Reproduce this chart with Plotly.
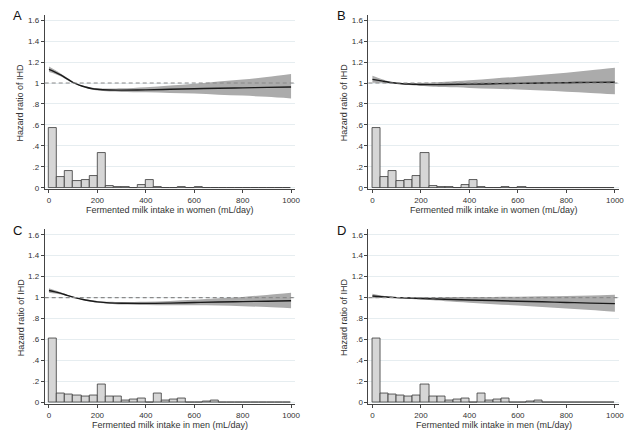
import plotly.graph_objects as go

# ---------------- data ----------------
BIN_WIDTH = 1000 / 30  # mL/day per histogram bin

hist_women = [0.573, 0.100, 0.158, 0.066, 0.073, 0.110, 0.335, 0.016, 0.006, 0.006,
              0.0, 0.025, 0.073, 0.006, 0.002, 0.002, 0.004, 0.0, 0.004, 0.0,
              0.0, 0.0, 0.0, 0.0, 0.0, 0.0, 0.0, 0.0, 0.0, 0.0]
hist_men = [0.610, 0.085, 0.076, 0.066, 0.057, 0.066, 0.170, 0.057, 0.057, 0.022,
            0.028, 0.036, 0.0, 0.091, 0.019, 0.028, 0.035, 0.0, 0.0, 0.008,
            0.017, 0.0, 0.003, 0.003, 0.003, 0.0, 0.0, 0.003, 0.0, 0.0]

intake = [0, 25, 50, 75, 100, 125, 150, 175, 200, 250, 300, 400, 500, 600, 700, 800, 900, 1000]

hr_A = [1.130, 1.105, 1.075, 1.040, 1.005, 0.980, 0.962, 0.948, 0.940, 0.933, 0.932, 0.935, 0.940, 0.945, 0.950, 0.954, 0.958, 0.962]
lo_A = [1.105, 1.087, 1.062, 1.030, 0.998, 0.973, 0.954, 0.938, 0.929, 0.919, 0.915, 0.911, 0.905, 0.900, 0.889, 0.880, 0.868, 0.853]
hi_A = [1.158, 1.124, 1.088, 1.050, 1.012, 0.987, 0.970, 0.958, 0.951, 0.947, 0.949, 0.960, 0.976, 0.993, 1.015, 1.034, 1.057, 1.085]

hr_B = [1.035, 1.025, 1.015, 1.005, 0.998, 0.993, 0.990, 0.988, 0.986, 0.985, 0.986, 0.989, 0.993, 0.997, 1.000, 1.003, 1.006, 1.008]
lo_B = [1.002, 1.003, 1.001, 0.997, 0.994, 0.987, 0.981, 0.976, 0.971, 0.965, 0.961, 0.953, 0.946, 0.939, 0.929, 0.917, 0.905, 0.892]
hi_B = [1.069, 1.048, 1.029, 1.013, 1.002, 0.999, 0.999, 1.000, 1.001, 1.005, 1.012, 1.026, 1.043, 1.060, 1.079, 1.099, 1.121, 1.145]

hr_C = [1.068, 1.055, 1.040, 1.022, 1.005, 0.990, 0.978, 0.968, 0.960, 0.950, 0.946, 0.945, 0.948, 0.953, 0.958, 0.962, 0.966, 0.970]
lo_C = [1.047, 1.040, 1.031, 1.016, 1.001, 0.985, 0.971, 0.960, 0.951, 0.940, 0.934, 0.929, 0.927, 0.927, 0.924, 0.918, 0.910, 0.899]
hi_C = [1.089, 1.070, 1.049, 1.028, 1.009, 0.995, 0.985, 0.976, 0.969, 0.960, 0.958, 0.961, 0.969, 0.980, 0.993, 1.007, 1.026, 1.046]

hr_D = [1.015, 1.011, 1.007, 1.003, 1.000, 0.998, 0.996, 0.994, 0.992, 0.988, 0.985, 0.978, 0.972, 0.966, 0.960, 0.954, 0.948, 0.943]
lo_D = [0.995, 0.997, 0.998, 0.998, 0.997, 0.993, 0.989, 0.985, 0.981, 0.974, 0.966, 0.952, 0.938, 0.924, 0.910, 0.897, 0.881, 0.865]
hi_D = [1.037, 1.025, 1.016, 1.008, 1.003, 1.003, 1.003, 1.003, 1.003, 1.002, 1.004, 1.005, 1.007, 1.009, 1.012, 1.016, 1.021, 1.027]

y_tickvals = [0, 0.2, 0.4, 0.6, 0.8, 1.0, 1.2, 1.4, 1.6]
y_ticktext = ["0", ".2", ".4", ".6", ".8", "1", "1.2", "1.4", "1.6"]
x_tickvals = [0, 200, 400, 600, 800, 1000]

panels = [
    dict(letter="A", hist=hist_women, hr=hr_A, lo=lo_A, hi=hi_A,
         xtitle="Fermented milk intake in women (mL/day)"),
    dict(letter="B", hist=hist_women, hr=hr_B, lo=lo_B, hi=hi_B,
         xtitle="Fermented milk intake in women (mL/day)"),
    dict(letter="C", hist=hist_men, hr=hr_C, lo=lo_C, hi=hi_C,
         xtitle="Fermented milk intake in men (mL/day)"),
    dict(letter="D", hist=hist_men, hr=hr_D, lo=lo_D, hi=hi_D,
         xtitle="Fermented milk intake in men (mL/day)"),
]

# ---------------- layout geometry (page pixels) ----------------
PAGE_W, PAGE_H = 644, 437
OFF = 8  # default body margin of the html page
W, H = PAGE_W - OFF, PAGE_H - OFF
geo = [
    dict(xl=45.0, xr=297.7, xrange=[-17.6, 1018.0], yb=190.7, yt=15.0),
    dict(xl=371.3, xr=623.7, xrange=[-16.4, 1016.4], yb=190.7, yt=15.0),
    dict(xl=45.0, xr=297.7, xrange=[-17.6, 1018.0], yb=407.0, yt=231.0),
    dict(xl=371.3, xr=623.7, xrange=[-16.4, 1016.4], yb=407.0, yt=231.0),
]
YRANGE = [-0.016, 1.65]


def fx(px):
    return (px - OFF) / W


def fy(py):
    return 1 - (py - OFF) / H


FONT = "Liberation Sans, Arial, sans-serif"
fig = go.Figure()

annotations = []
shapes = []
layout_axes = {}
bin_centers = [BIN_WIDTH * (i + 0.5) for i in range(30)]

for i, (p, g) in enumerate(zip(panels, geo)):
    n = "" if i == 0 else str(i + 1)
    xa, ya = "x" + n, "y" + n
    # histogram
    fig.add_trace(go.Bar(
        x=bin_centers, y=p["hist"], width=BIN_WIDTH,
        marker=dict(color="#d6d6d6", line=dict(color="#3a3a3a", width=0.8)),
        xaxis=xa, yaxis=ya, showlegend=False, hoverinfo="skip"))
    # CI band
    fig.add_trace(go.Scatter(
        x=intake, y=p["hi"], mode="lines", line=dict(width=0, shape="spline", color="rgba(0,0,0,0)"),
        xaxis=xa, yaxis=ya, showlegend=False, hoverinfo="skip"))
    fig.add_trace(go.Scatter(
        x=intake, y=p["lo"], mode="lines", line=dict(width=0, shape="spline", color="rgba(0,0,0,0)"),
        fill="tonexty", fillcolor="#ababab",
        xaxis=xa, yaxis=ya, showlegend=False, hoverinfo="skip"))
    # HR line
    fig.add_trace(go.Scatter(
        x=intake, y=p["hr"], mode="lines", line=dict(width=1.4, shape="spline", color="#1a1a1a"),
        xaxis=xa, yaxis=ya, showlegend=False))
    # reference line
    shapes.append(dict(type="line", xref=xa + " domain", yref=ya, x0=0, x1=1, y0=1, y1=1,
                       line=dict(color="#8a8a8a", width=1.2, dash="4px,3px"), layer="above"))

    xkey = "xaxis" + n
    ykey = "yaxis" + n
    layout_axes[xkey] = dict(
        domain=[fx(g["xl"]), fx(g["xr"])], range=g["xrange"], anchor=ya,
        tickvals=x_tickvals, ticks="outside", ticklen=3, tickcolor="#444",
        showgrid=False, zeroline=False, showline=True, linecolor="#444", linewidth=1,
        tickfont=dict(family=FONT, size=8, color="#333"), fixedrange=True)
    layout_axes[ykey] = dict(
        domain=[fy(g["yb"]), fy(g["yt"])], range=YRANGE, anchor=xa,
        tickvals=y_tickvals, ticktext=y_ticktext, ticks="outside", ticklen=3, tickcolor="#444",
        showgrid=True, gridcolor="#e6edf0", gridwidth=1, zeroline=False,
        showline=True, linecolor="#444", linewidth=1,
        tickfont=dict(family=FONT, size=8, color="#333"), fixedrange=True)

    # axis titles
    annotations.append(dict(
        x=fx((g["xl"] + g["xr"]) / 2), y=fy(g["yb"] + 21.0), xref="paper", yref="paper",
        text=p["xtitle"], showarrow=False, xanchor="center", yanchor="middle",
        font=dict(family=FONT, size=9, color="#333")))
    annotations.append(dict(
        x=fx(g["xl"] - 24.5), y=fy((g["yb"] + g["yt"]) / 2), xref="paper", yref="paper",
        text="Hazard ratio of IHD", showarrow=False, textangle=-90, xanchor="center", yanchor="middle",
        font=dict(family=FONT, size=9, color="#333")))
    # panel letter
    annotations.append(dict(
        x=fx(g["xl"] - 27), y=fy(g["yt"] + 1), xref="paper", yref="paper",
        text=p["letter"], showarrow=False, xanchor="center", yanchor="middle",
        font=dict(family=FONT, size=13, color="#111")))

fig.update_layout(
    width=W, height=H, margin=dict(l=0, r=0, t=0, b=0),
    paper_bgcolor="white", plot_bgcolor="white",
    barmode="overlay", bargap=0,
    annotations=annotations, shapes=shapes,
    **layout_axes)

fig.write_html(
    "out.html",
    post_script="document.documentElement.style.overflow='hidden';document.body.style.overflow='hidden';")
